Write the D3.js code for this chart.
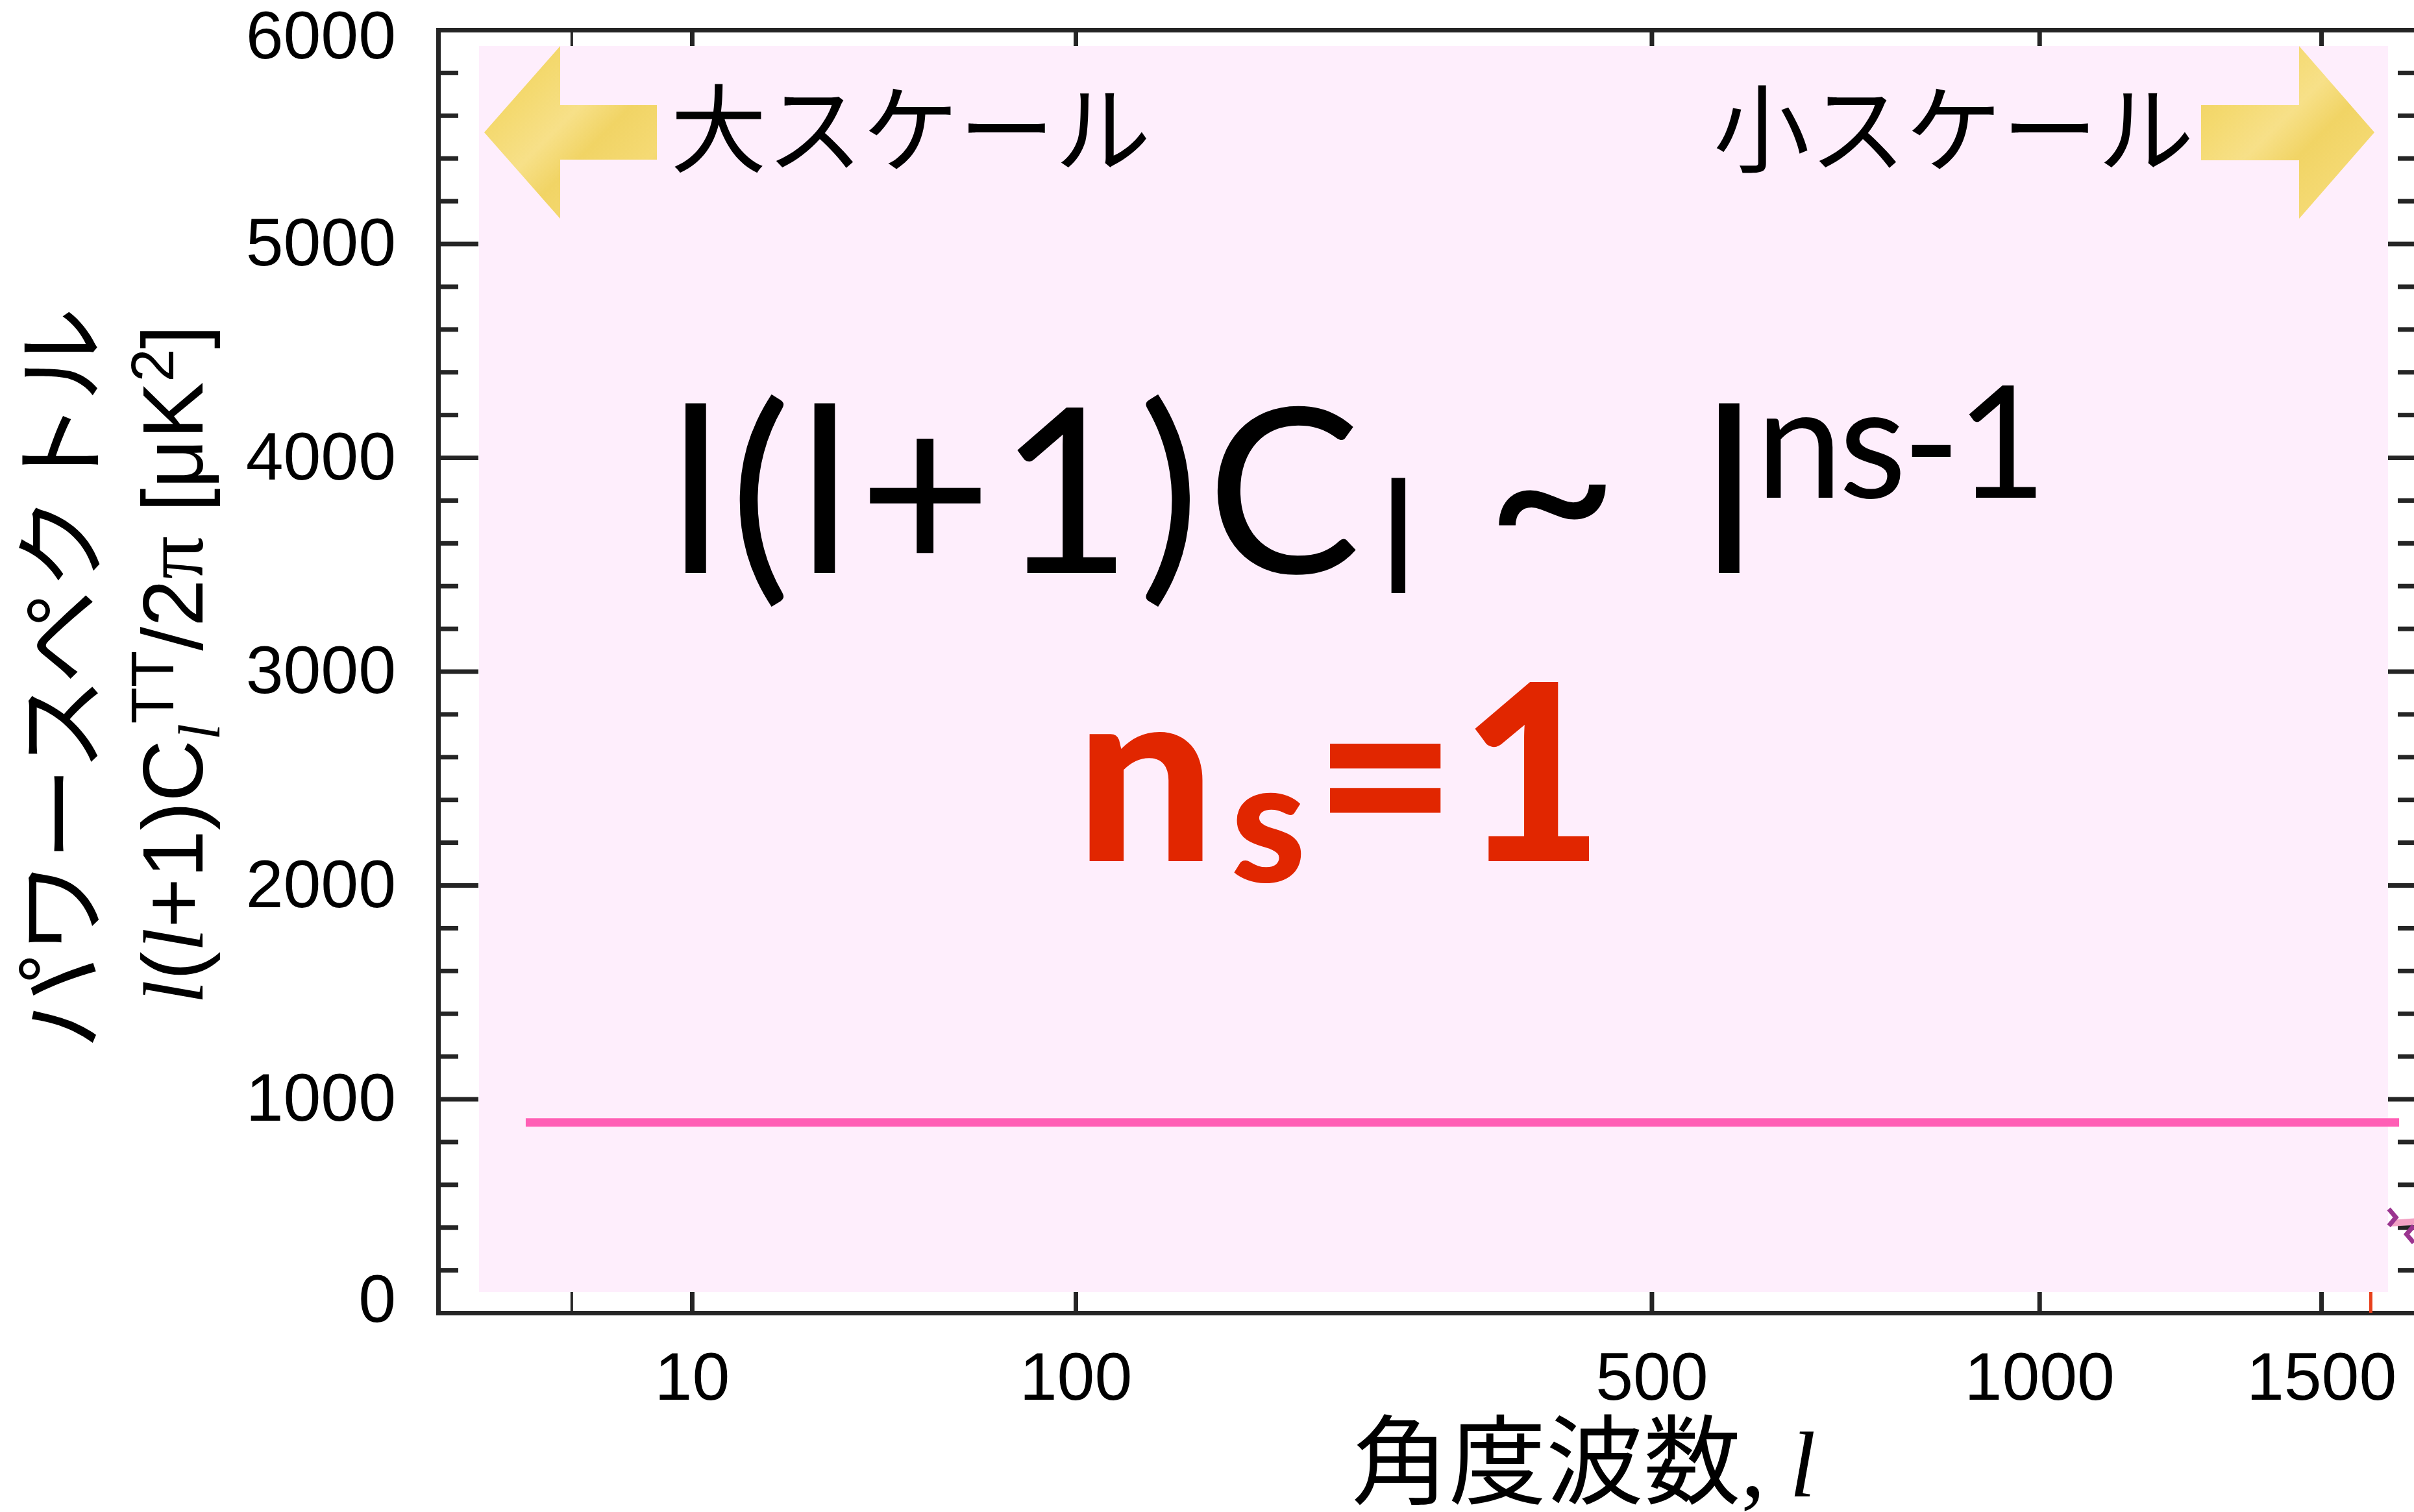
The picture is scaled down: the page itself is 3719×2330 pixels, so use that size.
<!DOCTYPE html>
<html><head><meta charset="utf-8">
<script src="https://cdn.jsdelivr.net/npm/d3@7"></script>
<style>html,body{margin:0;padding:0;background:#fff;overflow:hidden}</style>
</head><body>
<svg id="chart"></svg>
<script>
// ---------- data ----------
const xMajorTicks = [10, 100, 500, 1000, 1500];
const xMinorTicks = [2];
const yMajorTicks = [0, 1000, 2000, 3000, 4000, 5000, 6000];
const yMinorTicks = [200, 400, 600, 800, 1200, 1400, 1600, 1800, 2200, 2400, 2600, 2800,
                     3200, 3400, 3600, 3800, 4200, 4400, 4600, 4800, 5200, 5400, 5600, 5800];
// flat n_s = 1 spectrum  l(l+1)C_l/2pi
const flatL  = [0.7, 1660];
const flatDl = [890, 890];
// start of observed spectrum peeking in at the right edge
const obsL  = [1643, 1700];
const obsDl = [419, 428];
const markerL   = [1645, 1684];
const markerDl  = [446, 367];
const markerDir = [1, -1];
const highlightL = [1600];

// ---------- setup ----------
const W = 3719, H = 2330;
const svg = d3.select("#chart").attr("width", W).attr("height", H)
  .style("display", "block").style("background", "#fff");

const x = d3.scalePow().exponent(0.4).domain([0, 1700]).range([675, 3725]);
const y = d3.scaleLinear().domain([0, 6000]).range([2023, 46]);

const AX = "#252525";
const tickFont = "'Liberation Sans', Arial, Helvetica, sans-serif";

function styleAxis(g, w) {
  g.attr("font-family", tickFont).attr("font-size", 104);
  g.selectAll(".domain").attr("stroke", AX).attr("stroke-width", 7).attr("stroke-linecap", "square");
  g.selectAll(".tick line").attr("stroke", AX).attr("stroke-width", w);
  g.selectAll(".tick text").attr("fill", "#000");
}

// bottom axis
svg.append("g").attr("transform", "translate(0,2023)")
  .call(d3.axisBottom(x).tickValues(xMinorTicks).tickSize(-32).tickSizeOuter(0).tickFormat(""))
  .call(g => styleAxis(g, 4));
svg.append("g").attr("transform", "translate(0,2023)")
  .call(d3.axisBottom(x).tickValues(xMajorTicks).tickSize(-60).tickSizeOuter(0).tickPadding(60).tickFormat(d3.format("d")))
  .call(g => styleAxis(g, 7));
// red highlight tick
svg.append("g").attr("transform", "translate(0,2023)")
  .call(d3.axisBottom(x).tickValues(highlightL).tickSize(-60).tickSizeOuter(0).tickFormat(""))
  .call(g => { g.select(".domain").remove(); g.selectAll(".tick line").attr("stroke", "#e8401c").attr("stroke-width", 5); });
// top axis
svg.append("g").attr("transform", "translate(0,46)")
  .call(d3.axisTop(x).tickValues(xMinorTicks).tickSize(-32).tickSizeOuter(0).tickFormat(""))
  .call(g => styleAxis(g, 4));
svg.append("g").attr("transform", "translate(0,46)")
  .call(d3.axisTop(x).tickValues(xMajorTicks).tickSize(-60).tickSizeOuter(0).tickFormat(""))
  .call(g => styleAxis(g, 7));
// left axis
svg.append("g").attr("transform", "translate(675,0)")
  .call(d3.axisLeft(y).tickValues(yMinorTicks).tickSize(-31).tickSizeOuter(0).tickFormat(""))
  .call(g => styleAxis(g, 7));
svg.append("g").attr("transform", "translate(675,0)")
  .call(d3.axisLeft(y).tickValues(yMajorTicks).tickSize(-62).tickSizeOuter(0).tickPadding(65).tickFormat(d3.format("d")))
  .call(g => styleAxis(g, 7))
  .call(g => g.selectAll(".tick text")
    .attr("y", d => d === 0 ? -20 : (d === 6000 ? 10 : 0)));
// right axis
svg.append("g").attr("transform", "translate(3725,0)")
  .call(d3.axisRight(y).tickValues(yMinorTicks).tickSize(-31).tickSizeOuter(0).tickFormat(""))
  .call(g => styleAxis(g, 7));
svg.append("g").attr("transform", "translate(3725,0)")
  .call(d3.axisRight(y).tickValues(yMajorTicks).tickSize(-62).tickSizeOuter(0).tickFormat(""))
  .call(g => styleAxis(g, 7));

// ---------- background panel ----------
svg.append("rect").attr("x", 738).attr("y", 71).attr("width", 3679 - 738).attr("height", 1991 - 71)
  .attr("fill", "#feeefc");

// ---------- series ----------
const line = d3.line().x(d => x(d[0])).y(d => y(d[1]));
svg.append("path").datum(d3.zip(obsL, obsDl)).attr("d", line)
  .attr("fill", "none").attr("stroke", "#f2a2c4").attr("stroke-width", 10);
svg.append("path").datum(d3.zip(flatL, flatDl)).attr("d", line)
  .attr("fill", "none").attr("stroke", "#ff5eb5").attr("stroke-width", 13);
svg.selectAll(".mk").data(d3.zip(markerL, markerDl, markerDir)).join("path")
  .attr("class", "mk")
  .attr("d", d => {
    const cx = x(d[0]), cy = y(d[1]), s = d[2];
    return `M${cx - s * 5},${cy - 13}L${cx + s * 6},${cy}L${cx - s * 5},${cy + 13}`;
  })
  .attr("fill", "none").attr("stroke", "#9b3590").attr("stroke-width", 7);

// ---------- arrows ----------
const defs = svg.append("defs");
const grad = defs.append("linearGradient").attr("id", "gold").attr("x1", "0").attr("y1", "0").attr("x2", "1").attr("y2", "1");
[["0", "#eecd5a"], ["0.25", "#f4d96e"], ["0.45", "#f7e088"], ["0.6", "#f1d465"], ["0.8", "#f5da74"], ["1", "#ebcb56"]]
  .forEach(([o, c]) => grad.append("stop").attr("offset", o).attr("stop-color", c));
svg.append("path").attr("d", "M746,204L863,71L863,162L1012,162L1012,246L863,246L863,337Z").attr("fill", "url(#gold)");
svg.append("path").attr("d", "M3658,204L3542,71L3542,162L3391,162L3391,247L3542,247L3542,337Z").attr("fill", "url(#gold)");

// ---------- annotations ----------
const jp = "'Noto Sans CJK JP', 'Noto Sans CJK SC', sans-serif";
svg.append("text").attr("x", 1033).attr("y", 254).attr("font-family", jp).attr("font-size", 148)
  .attr("fill", "#000").text("大スケール");
svg.append("text").attr("x", 3380).attr("y", 254).attr("font-family", jp).attr("font-size", 148)
  .attr("text-anchor", "end").attr("fill", "#000").text("小スケール");

// big formula
const lato = "Lato, 'Open Sans', sans-serif";
const f = svg.append("text").attr("font-family", lato).attr("fill", "#000");
f.append("tspan").attr("x", 1030).attr("y", 883).attr("font-size", 355).attr("letter-spacing", 10).text("l(l+1)C");
f.append("tspan").attr("x", 2126).attr("y", 914).attr("font-size", 240).text("l");
f.append("tspan").attr("x", 2288).attr("y", 883).attr("font-size", 355).text("~");
f.append("tspan").attr("x", 2622).attr("y", 883).attr("font-size", 355).text("l");
f.append("tspan").attr("x", 2705).attr("y", 767).attr("font-size", 240).attr("letter-spacing", -6).text("ns-1");

// n_s = 1
const r = svg.append("text").attr("font-family", lato).attr("font-weight", 900).attr("fill", "#e12600");
r.append("tspan").attr("x", 1657).attr("y", 1327).attr("font-size", 380).text("n");
r.append("tspan").attr("x", 1896).attr("y", 1359).attr("font-size", 262).text("s");
r.append("tspan").attr("x", 2024).attr("y", 1327).attr("font-size", 380).text("=");
r.append("tspan").attr("x", 2250).attr("y", 1327).attr("font-size", 380).text("1");

// x-axis title
const xt = svg.append("text").attr("x", 2082).attr("y", 2306).attr("fill", "#000");
xt.append("tspan").attr("font-family", jp).attr("font-size", 150).text("角度波数");
xt.append("tspan").attr("font-family", "'Liberation Serif', serif").attr("font-size", 150).text(", ");
xt.append("tspan").attr("font-family", "'Liberation Serif', serif").attr("font-style", "italic").attr("font-size", 145).text("l");

// y-axis title
svg.append("text").attr("transform", "translate(147,1045) rotate(-90)").attr("text-anchor", "middle")
  .attr("font-family", jp).attr("font-size", 145).attr("fill", "#000").text("パワースペクトル");

const serif = "'Liberation Serif', 'Times New Roman', serif";
const yt = svg.append("text").attr("transform", "translate(312,1024) rotate(-90)").attr("text-anchor", "middle")
  .attr("font-family", tickFont).attr("font-size", 132).attr("fill", "#000");
yt.append("tspan").attr("font-family", serif).attr("font-style", "italic").text("l");
yt.append("tspan").text("(");
yt.append("tspan").attr("font-family", serif).attr("font-style", "italic").text("l");
yt.append("tspan").text("+1)C");
yt.append("tspan").attr("font-family", serif).attr("font-style", "italic").attr("font-size", 90).attr("dy", 26).text("l");
yt.append("tspan").attr("font-size", 92).attr("dy", -71).text("TT");
yt.append("tspan").attr("dy", 45).text("/2");
yt.append("tspan").attr("font-family", serif).text("π");
yt.append("tspan").text(" [μK");
yt.append("tspan").attr("font-size", 92).attr("dy", -45).text("2");
yt.append("tspan").attr("dy", 45).text("]");
</script>
</body></html>
